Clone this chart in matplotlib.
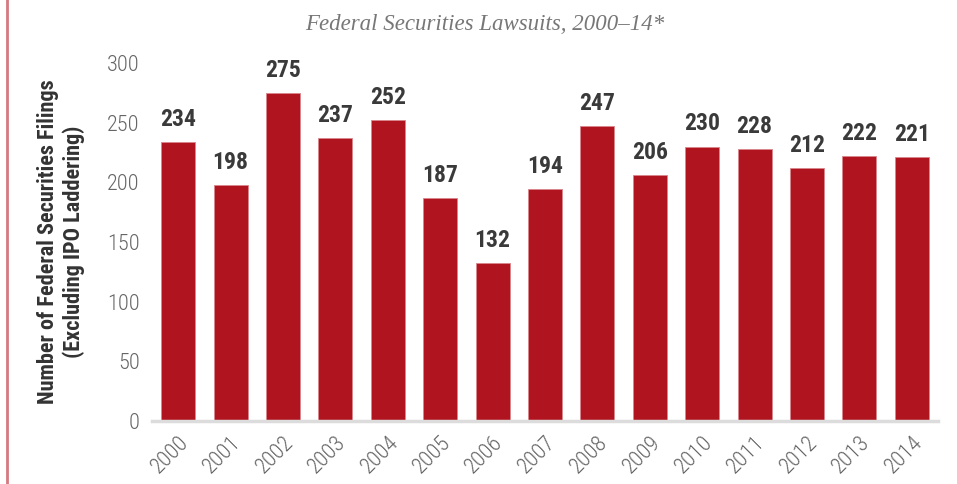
import matplotlib.pyplot as plt
import matplotlib.lines as mlines

# 数据
years = ['2000', '2001', '2002', '2003', '2004', '2005', '2006', '2007',
         '2008', '2009', '2010', '2011', '2012', '2013', '2014']
filings = [234, 198, 275, 237, 252, 187, 132, 194, 247, 206, 230, 228, 212, 222, 221]
yticks = [0, 50, 100, 150, 200, 250, 300]

narrow = ['Roboto Condensed', 'Roboto', 'DejaVu Sans']

fig = plt.figure(figsize=(9.57, 4.84), dpi=100)
ax = fig.add_axes([152 / 957, 1 - 421 / 484, 786 / 957, 358 / 484])

x = range(len(years))
bars = ax.bar(x, filings, width=0.65, color='#b0141f', edgecolor='#d9868c', linewidth=0.6)

# 柱顶数值
for xi, v in zip(x, filings):
    ax.annotate(str(v), (xi, v), xytext=(0, 8), textcoords='offset points',
                ha='center', va='bottom', fontsize=17, fontweight='bold',
                color='#3a3a3a', family=narrow)

ax.set_xlim(-0.5, len(years) - 0.5)
ax.set_ylim(0, 300)
ax.set_yticks(yticks)
ax.set_xticks(list(x))
ax.set_xticklabels(years, rotation=45, ha='right', va='top', rotation_mode='anchor')
for lab in ax.get_xticklabels() + ax.get_yticklabels():
    lab.set_family(narrow)
    lab.set_fontsize(16)
    lab.set_fontweight('light')
    lab.set_color('#666666')
ax.tick_params(axis='both', length=0)
ax.tick_params(axis='x', pad=8)
ax.tick_params(axis='y', pad=9)

for s in ['top', 'right', 'left']:
    ax.spines[s].set_visible(False)
ax.spines['bottom'].set_color('#dcdcdc')
ax.spines['bottom'].set_linewidth(2.5)

ax.set_ylabel('Number of Federal Securities Filings\n(Excluding IPO Laddering)',
              fontsize=16, fontweight='bold', color='#333333', family=narrow,
              labelpad=16, linespacing=1.15)

fig.text(485 / 957, 1 - 25 / 484, 'Federal Securities Lawsuits, 2000\u201314*',
         ha='center', va='center', fontsize=16.5, style='italic',
         family=['Liberation Serif', 'DejaVu Serif'], color='#777777')

# 左侧竖线
fig.add_artist(mlines.Line2D([7.5 / 957, 7.5 / 957], [0, 1], color='#d47a80', linewidth=2,
                             transform=fig.transFigure))

fig.savefig('out.png', dpi=100)
